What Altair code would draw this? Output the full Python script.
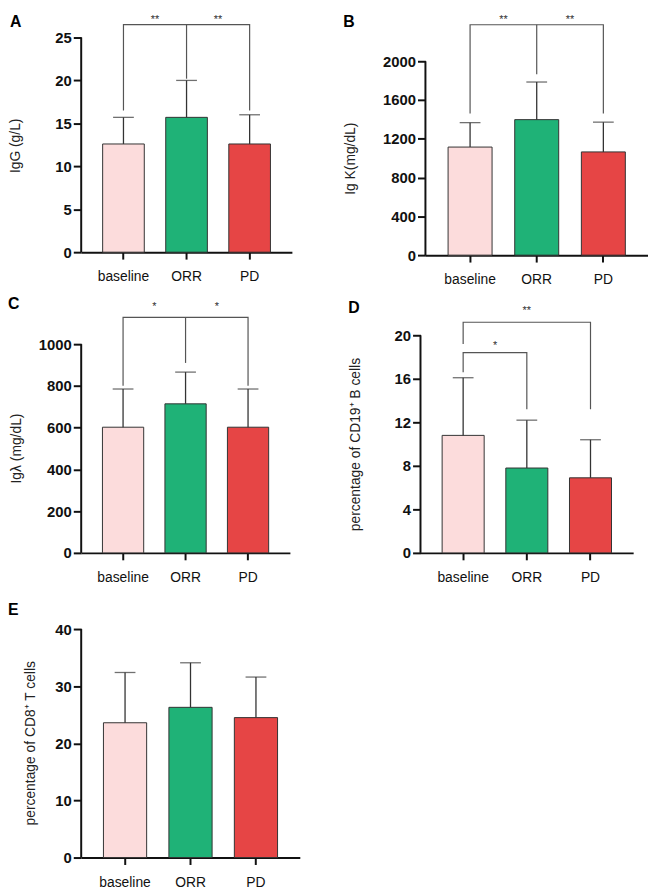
import altair as alt
import pandas as pd

groups = ["baseline", "ORR", "PD"]
bar_colors = ["#FCDCDC", "#1FB277", "#E64545"]

# Panel A: IgG
a_mean = [12.6, 15.7, 12.6]
a_top = [15.7, 20.0, 16.0]
# Panel B: Ig kappa
b_mean = [1115, 1398, 1065]
b_top = [1367, 1786, 1372]
# Panel C: Ig lambda
c_mean = [602, 714, 602]
c_top = [785, 866, 785]
# Panel D: CD19+ B cells
d_mean = [10.8, 7.8, 6.9]
d_top = [16.1, 12.2, 10.4]
# Panel E: CD8+ T cells
e_mean = [23.6, 26.3, 24.5]
e_top = [32.4, 34.1, 31.6]

# significance brackets: (bracket id, group, value) in path order
a_br = [(1, "baseline", 16.5), (1, "baseline", 26.5), (1, "PD", 26.5), (1, "PD", 16.5),
        (2, "ORR", 26.5), (2, "ORR", 20.2)]
b_br = [(1, "baseline", 1460), (1, "baseline", 2377), (1, "PD", 2377), (1, "PD", 1460),
        (2, "ORR", 2377), (2, "ORR", 1867)]
c_br = [(1, "baseline", 801), (1, "baseline", 1128), (1, "PD", 1128), (1, "PD", 801),
        (2, "ORR", 1128), (2, "ORR", 910)]
d_br = [(1, "baseline", 19.2), (1, "baseline", 21.2), (1, "PD", 21.2), (1, "PD", 13.2),
        (2, "baseline", 16.6), (2, "baseline", 18.4), (2, "ORR", 18.4), (2, "ORR", 13.2)]

# stars: (anchor group, value, label, side: -1 left half-step, 0 centre, +1 right half-step)
a_st = [("ORR", 26.73, "**", -1), ("ORR", 26.73, "**", 1)]
b_st = [("ORR", 2398, "**", -1), ("ORR", 2398, "**", 1)]
c_st = [("ORR", 1164, "*", -1), ("ORR", 1164, "*", 1)]
d_st = [("ORR", 21.96, "**", 0), ("ORR", 18.78, "*", -1)]

FONT = "Liberation Sans"


def panel(letter, means, tops, ytitle, ytick_max, ystep, dmax, W, H, brackets, stars,
          ldx, ldy, title_x, title_y):
    df = pd.DataFrame({"group": groups, "mean": means, "top": tops})
    xsc = alt.Scale(domain=groups, paddingInner=0.34, paddingOuter=0.34)
    ysc = alt.Scale(domain=[0, dmax], nice=False, zero=True)
    xenc = alt.X("group:N", scale=xsc, sort=groups,
                 axis=alt.Axis(title=None, labelAngle=0, labelFontSize=14,
                               labelFont=FONT, labelColor="#111",
                               tickSize=7, tickWidth=2, tickColor="#111",
                               domainWidth=2, domainColor="#111",
                               labelPadding=11, grid=False))
    vals = list(range(0, int(ytick_max) + 1, ystep))
    yenc = alt.Y("mean:Q", scale=ysc,
                 axis=alt.Axis(title=ytitle, values=vals, format="d",
                               labelFontSize=15, labelFontWeight="bold",
                               labelFont=FONT, labelColor="#111",
                               labelOverlap=False,
                               tickSize=8, tickWidth=2, tickColor="#111",
                               domain=False,
                               labelPadding=2, grid=False,
                               titleFont=FONT, titleFontSize=14,
                               titleFontWeight="normal", titleColor="#222",
                               titleX=title_x, titleY=title_y))
    base = alt.Chart(df)
    bars = base.mark_bar(stroke="#333", strokeWidth=1).encode(
        x=xenc, y=yenc,
        color=alt.Color("group:N", scale=alt.Scale(domain=groups, range=bar_colors),
                        legend=None))
    err = base.mark_rule(color="#333", strokeWidth=1.3).encode(
        x=alt.X("group:N", scale=xsc, sort=groups),
        y=alt.Y("mean:Q", scale=ysc), y2="top:Q")
    caps = base.mark_tick(color="#333", thickness=1.3, size=21, orient="horizontal").encode(
        x=alt.X("group:N", scale=xsc, sort=groups),
        y=alt.Y("top:Q", scale=ysc))
    adf = pd.DataFrame({"y0": [0], "y1": [ytick_max]})
    axis_line = alt.Chart(adf).mark_rule(color="#111", strokeWidth=2).encode(
        x=alt.value(0), y=alt.Y("y0:Q", scale=ysc), y2="y1:Q")
    layers = [bars, err, caps, axis_line]
    if brackets:
        bdf = pd.DataFrame(brackets, columns=["bid", "group", "val"])
        bdf["ord"] = range(len(bdf))
        layers.append(alt.Chart(bdf).mark_line(color="#555", strokeWidth=1.2).encode(
            x=alt.X("group:N", scale=xsc, sort=groups),
            y=alt.Y("val:Q", scale=ysc),
            detail="bid:N", order="ord:Q"))
    step = W / 3.34
    if stars:
        sdf = pd.DataFrame(stars, columns=["group", "val", "lab", "side"])
        for side in sorted(set(sdf["side"])):
            sub = sdf[sdf["side"] == side]
            layers.append(alt.Chart(sub).mark_text(
                fontSize=11, font=FONT, color="#333", baseline="alphabetic",
                dx=side * step / 2).encode(
                x=alt.X("group:N", scale=xsc, sort=groups),
                y=alt.Y("val:Q", scale=ysc),
                text="lab:N"))
    ldf = pd.DataFrame({"t": [letter]})
    layers.append(alt.Chart(ldf).mark_text(
        fontSize=16, fontWeight="bold", font=FONT, color="#000",
        align="left", baseline="top").encode(
        x=alt.value(ldx), y=alt.value(ldy), text="t:N"))
    return alt.layer(*layers).properties(width=W, height=H)


pA = panel("A", a_mean, a_top, "IgG (g/L)", 25, 5, 27.76, 213, 241, a_br, a_st,
           -72, 0, -59, 133)
pB = panel("B", b_mean, b_top, "Ig K(mg/dL)", 2000, 400, 2490, 225, 244, b_br, b_st,
           -83, 0, -69, 146)
pC = panel("C", c_mean, c_top, "Igλ (mg/dL)", 1000, 200, 1232, 211, 260, c_br, c_st,
           -74, 0, -58, 154)
pD = panel("D", d_mean, d_top, "percentage of CD19⁺ B cells", 20, 4, 23.64, 215, 260,
           d_br, d_st, -73, 4, -59, 150)
pE = panel("E", e_mean, e_top, "percentage of CD8⁺ T cells", 40, 10, 44.68, 221, 258,
           None, None, -74, 0, -44, 142)

row1 = alt.hconcat(pA, pB, spacing=52)
row2 = alt.hconcat(pC, pD, spacing=59)
top = alt.vconcat(row1, row2, spacing=9)
chart = alt.vconcat(top, pE, spacing=18).properties(padding=0).configure_view(stroke=None)

chart.save("out.html", embed_options={"renderer": "svg", "actions": False})
